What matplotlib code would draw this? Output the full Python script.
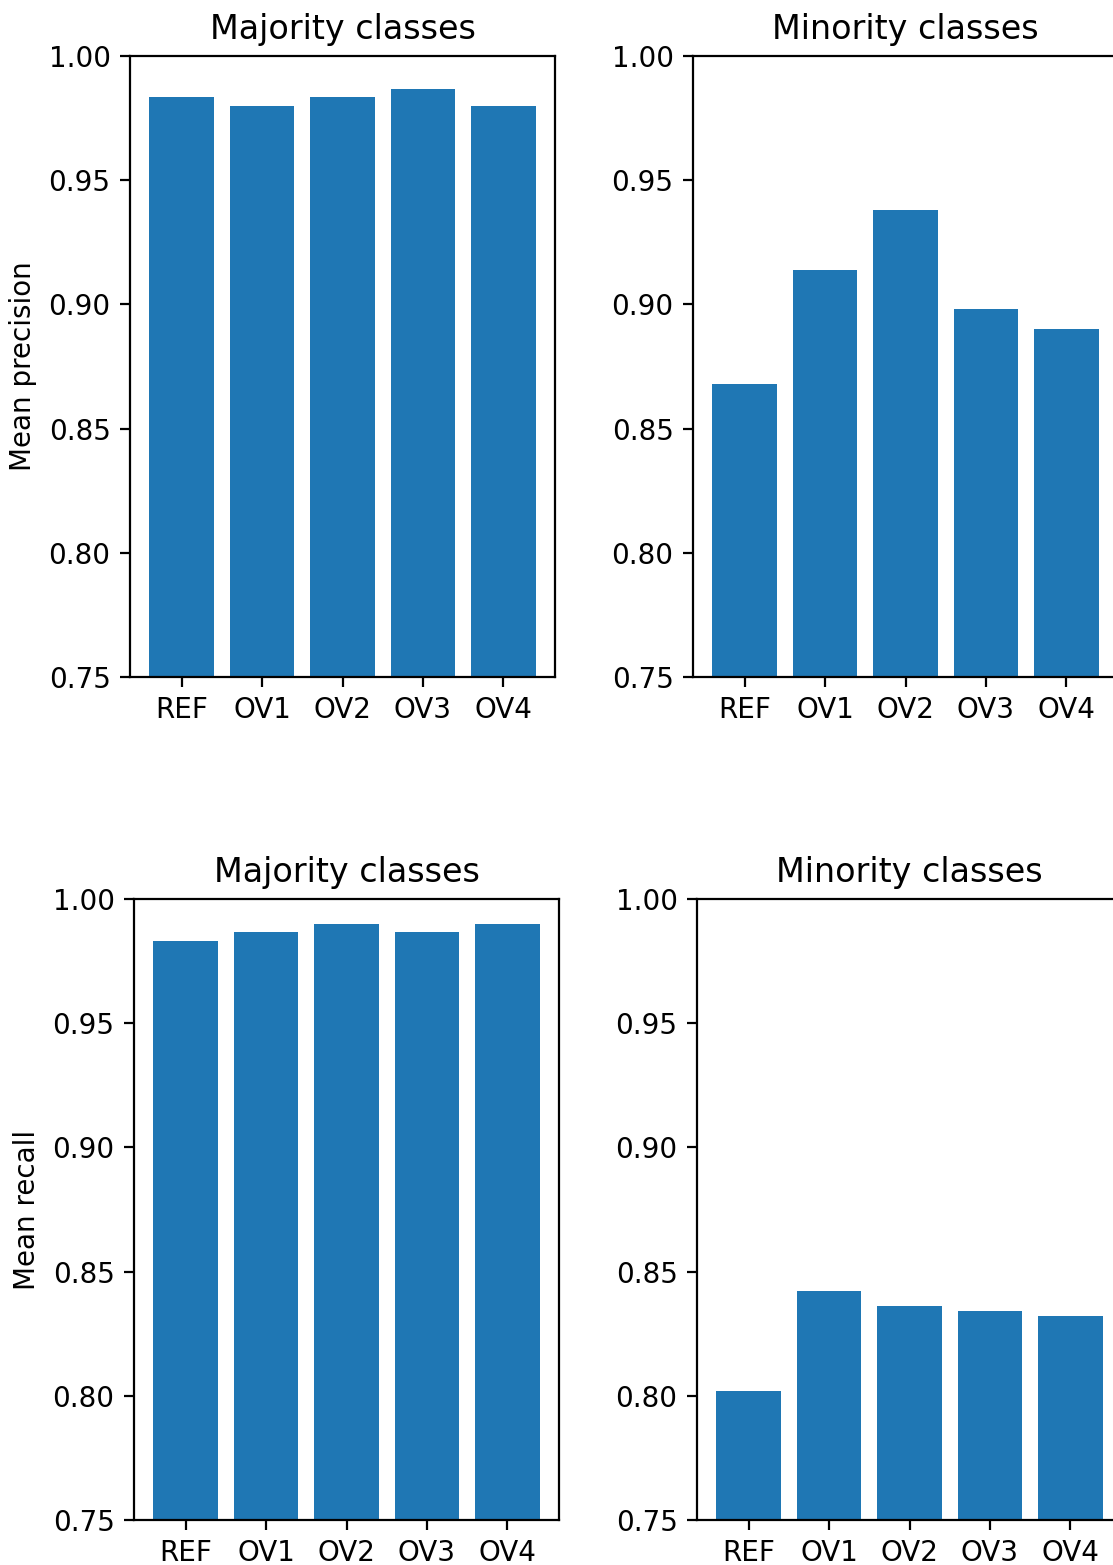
import matplotlib
matplotlib.use("Agg")
import matplotlib.pyplot as plt

methods = ["REF", "OV1", "OV2", "OV3", "OV4"]

precision_majority = [0.9835, 0.980, 0.9835, 0.9867, 0.980]
precision_minority = [0.868, 0.914, 0.938, 0.898, 0.890]
recall_majority = [0.983, 0.9867, 0.990, 0.9867, 0.990]
recall_minority = [0.802, 0.842, 0.836, 0.834, 0.832]

fig = plt.figure(figsize=(1113 / 200, 1565 / 200), dpi=200)

# axes placed by hand; the right column runs slightly past the figure edge
W, H = 1113, 1565
def add_ax(x0, y_top, w=425, h=621):
    return fig.add_axes([x0 / W, 1 - (y_top + h) / H, w / W, h / H])

panels = [
    (add_ax(130, 56), precision_majority, "Majority classes", "Mean precision"),
    (add_ax(693, 56), precision_minority, "Minority classes", None),
    (add_ax(134, 899), recall_majority, "Majority classes", "Mean recall"),
    (add_ax(697, 899), recall_minority, "Minority classes", None),
]

for ax, values, title, ylabel in panels:
    ax.bar(methods, values, color="#1f77b4")
    ax.set_ylim(0.75, 1.0)
    ax.set_yticks([0.75, 0.80, 0.85, 0.90, 0.95, 1.00])
    ax.set_title(title)
    if ylabel:
        ax.set_ylabel(ylabel)

fig.savefig("out.png", dpi=200)
